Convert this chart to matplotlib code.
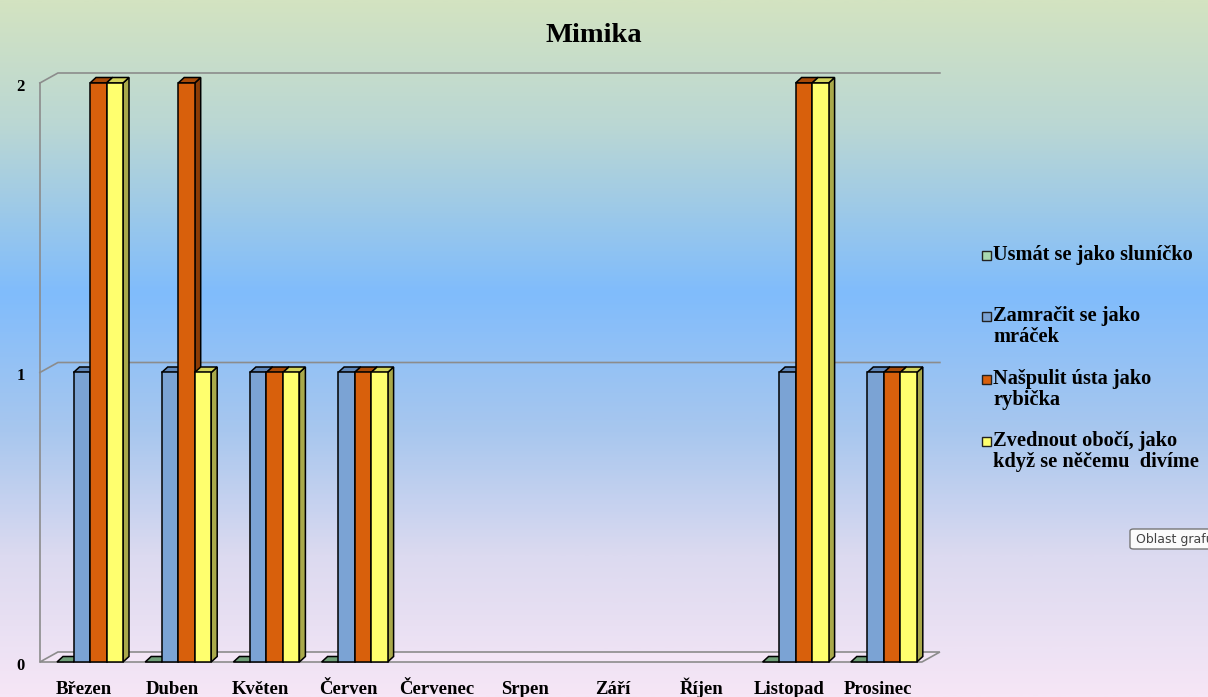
import numpy as np
import matplotlib
matplotlib.use('Agg')
import matplotlib.pyplot as plt
import matplotlib.transforms as mtransforms
from matplotlib.patches import Polygon, Rectangle, FancyBboxPatch
from matplotlib.colors import LinearSegmentedColormap

nan = np.nan

months = ['Březen', 'Duben', 'Květen', 'Červen', 'Červenec',
          'Srpen', 'Září', 'Říjen', 'Listopad', 'Prosinec']
usmat = [0, 0, 0, 0, nan, nan, nan, nan, 0, 0]
zamracit = [1, 1, 1, 1, nan, nan, nan, nan, 1, 1]
naspulit = [2, 2, 1, 1, nan, nan, nan, nan, 2, 1]
zvednout = [2, 1, 1, 1, nan, nan, nan, nan, 2, 1]
y_ticks = [0, 1, 2]

series_names = ['Usmát se jako sluníčko',
                'Zamračit se jako\nmráček',
                'Našpulit ústa jako\nrybička',
                'Zvednout obočí, jako\nkdyž se něčemu  divíme']
series_values = [usmat, zamracit, naspulit, zvednout]

# barvy: čelo, vršek, bok
colors = [('#8fbf94', '#6f9f78', '#5a8562'),
          ('#7ba3d4', '#5f86b8', '#4d6f9c'),
          ('#d8600c', '#a84a08', '#8a3c06'),
          ('#ffff6e', '#d4d45a', '#a9a94a')]
legend_colors = ['#a8d8b0', '#7ba3d4', '#d8600c', '#ffff6e']

W, H = 1208, 697
fig = plt.figure(figsize=(W / 100, H / 100), dpi=100)

# pozadí s přechodem
bg = fig.add_axes([0, 0, 1, 1], zorder=-10)
stops = [(0.0, (211, 227, 193)), (0.18, (186, 215, 212)), (0.42, (128, 188, 252)),
         (0.62, (168, 199, 238)), (0.80, (220, 218, 240)), (1.0, (246, 230, 246))]
cmap = LinearSegmentedColormap.from_list(
    'bg', [(p, tuple(c / 255 for c in rgb)) for p, rgb in stops])
bg.imshow(np.linspace(0, 1, 400).reshape(-1, 1), aspect='auto', cmap=cmap,
          extent=[0, 1, 0, 1])
bg.axis('off')

# osy v pixelech: kategorie po 88.2 px, jednotka 289.5 px
px_x0, px_x1 = 40, 960
px_y0, px_y1 = 662, 40
cat_px, unit_px, cat0_px = 88.2, 289.5, 84
ax = fig.add_axes([px_x0 / W, (H - px_y0) / H, (px_x1 - px_x0) / W, (px_y0 - px_y1) / H])
ax.patch.set_alpha(0)
ax.set_xlim((px_x0 - cat0_px) / cat_px, (px_x1 - cat0_px) / cat_px)
ax.set_ylim(0, (px_y0 - px_y1) / unit_px)
for s in ax.spines.values():
    s.set_visible(False)

wdx, wdy = 18 / cat_px, 10 / unit_px      # hloubka stěny
bdx, bdy = 6 / cat_px, 5.5 / unit_px      # hloubka sloupce
left, right = -0.5, len(months) - 0.5
gridc = '#8c8c8c'

# podlaha
ax.add_patch(Polygon([(left, 0), (right, 0), (right + wdx, wdy), (left + wdx, wdy)],
                     closed=True, facecolor='#f3e6f6', edgecolor=gridc, lw=1.2,
                     zorder=1, clip_on=False))
# svislá osa a mřížka
ax.plot([left, left], [0, max(y_ticks)], color=gridc, lw=1.2, zorder=1, clip_on=False)
for v in y_ticks[1:]:
    ax.plot([left, left + wdx, right + wdx], [v, v + wdy, v + wdy],
            color=gridc, lw=1.2, zorder=1, clip_on=False)

bar_w = 16.5 / cat_px
start = (57 - cat0_px) / cat_px
for i in range(len(months)):
    for k, vals in enumerate(series_values):
        h = vals[i]
        if np.isnan(h):
            continue
        x0 = i + start + k * bar_w
        face, top, side = colors[k]
        z = 2 + k * 0.1
        if h > 0:
            ax.add_patch(Polygon([(x0 + bar_w, 0), (x0 + bar_w + bdx, bdy),
                                  (x0 + bar_w + bdx, h + bdy), (x0 + bar_w, h)],
                                 closed=True, facecolor=side, edgecolor='black',
                                 lw=1.1, zorder=z, clip_on=False))
        ax.add_patch(Polygon([(x0, h), (x0 + bar_w, h), (x0 + bar_w + bdx, h + bdy),
                              (x0 + bdx, h + bdy)],
                             closed=True, facecolor=top, edgecolor='black',
                             lw=1.1, zorder=z, clip_on=False))
        if h > 0:
            ax.bar(x0, h, width=bar_w, align='edge', color=face, edgecolor='black',
                   lw=1.1, zorder=z + 0.05, clip_on=False)

serif = 'Liberation Serif'
ax.set_xticks(range(len(months)))
ax.set_xticklabels(months, fontfamily=serif, fontweight='bold', fontsize=13.5)
for lab in ax.get_xticklabels():
    lab.set_verticalalignment('baseline')
ax.tick_params(axis='x', length=0, pad=23)
ax.set_yticks([])

# popisky osy y, mírně pod úrovní hodnot
ylab_tr = ax.get_yaxis_transform() + mtransforms.ScaledTranslation(
    -15 / 100, -4 / 100, fig.dpi_scale_trans)
for v in y_ticks:
    ax.text(0, v, str(v), transform=ylab_tr, fontfamily=serif, fontweight='bold',
            fontsize=12, ha='right', va='center', clip_on=False)

fig.text(594 / W, 1 - 42 / H, 'Mimika', fontfamily=serif, fontweight='bold',
         fontsize=20.5, ha='center', va='baseline')

# legenda
leg_y = [255, 316, 379, 441]
for k, name in enumerate(series_names):
    y = leg_y[k]
    fig.add_artist(Rectangle((982 / W, 1 - (y + 5) / H), 9 / W, 9 / H,
                             transform=fig.transFigure, facecolor=legend_colors[k],
                             edgecolor='#222222', lw=1))
    for j, line in enumerate(name.split('\n')):
        fig.text(993 / W, 1 - (y + 5 + j * 21) / H, line, fontfamily=serif,
                 fontweight='bold', fontsize=14.7, ha='left', va='baseline')

# bublina s popisem
fig.add_artist(FancyBboxPatch((1130 / W, 1 - 549 / H), 90 / W, 20 / H,
                              boxstyle='round,pad=0,rounding_size=0.003',
                              transform=fig.transFigure, facecolor='#fbfbfb',
                              edgecolor='#767676', lw=1))
fig.text(1136 / W, 1 - 539 / H, 'Oblast grafu', fontfamily='DejaVu Sans',
         fontsize=9, color='#444444', ha='left', va='center')

fig.savefig('out.png', dpi=100)
